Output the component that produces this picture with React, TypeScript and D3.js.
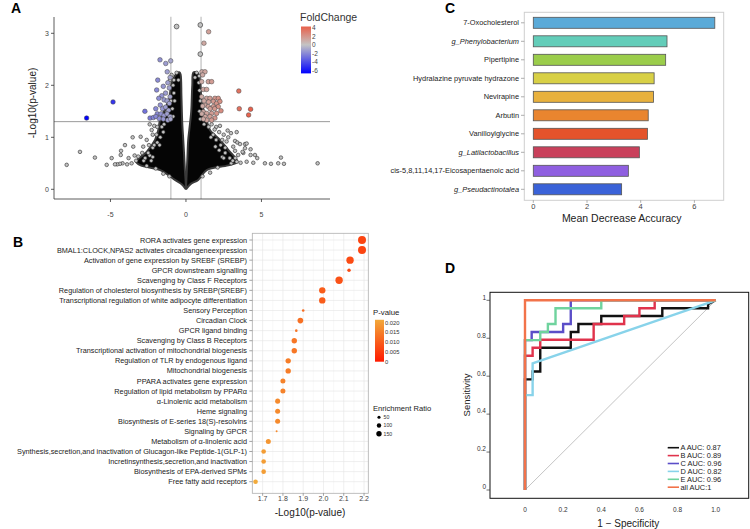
import React from "react";
import * as d3 from "d3";

const FONT = "'Liberation Sans', Arial, Helvetica, sans-serif";

// ---------------- Panel A: volcano ----------------
const volcanoXTicks = [-5, 0, 5];
const volcanoYTicks = [0, 1, 2, 3];
const foldTicks = [4, 2, 0, -2, -4, -6];
// dense cloud envelopes (log2FC, -log10 p)
const cloudLeft: [number, number][] = [
  [0, 0], [-0.3, 0.1], [-0.73, 0.18], [-1.7, 0.37], [-3.0, 0.46], [-3.3, 0.53], [-2.6, 0.72],
  [-2.05, 0.95], [-1.83, 1.14], [-1.72, 1.33], [-1.3, 1.6], [-1.1, 1.75], [-0.95, 2.04],
  [-0.6, 2.23], [-0.42, 2.25], [-0.35, 2.2], [-0.3, 1.8], [-0.25, 1.3], [-0.18, 0.95],
  [-0.13, 0.7], [-0.07, 0.37], [-0.02, 0.15], [0, 0],
];
const cloudRight: [number, number][] = [
  [0, 0], [0.3, 0.1], [0.81, 0.18], [1.37, 0.37], [2.8, 0.46], [3.4, 0.53], [2.8, 0.76],
  [2.25, 0.95], [1.59, 1.14], [1.37, 1.33], [1.04, 1.68], [0.95, 2.04], [0.8, 2.23],
  [0.5, 2.25], [0.42, 2.0], [0.35, 1.5], [0.22, 1.14], [0.15, 0.95], [0.09, 0.56],
  [0.03, 0.2], [0, 0],
];
const volcanoGray: [number, number][] = [
  [-0.62, 3.13], [0.95, 3.16], [0.95, 2.6],
  [-0.62, 2.24], [-0.95, 2.2], [-1.06, 2.1], [0.71, 2.24], [0.88, 2.18], [0.6, 2.15], [-0.5, 2.1],
  [-0.85, 2.0], [0.85, 2.05], [-0.8, 1.85], [0.9, 1.9], [-0.75, 1.7], [0.95, 1.7], [-0.9, 1.55],
  [0.9, 1.5], [-0.85, 1.4], [0.95, 1.35],
  [-1.6, 1.2], [-1.5, 1.1], [-1.7, 1.0], [-1.9, 0.9], [-2.2, 0.8], [-2.4, 0.65], [-2.8, 0.55],
  [-1.25, 1.5], [-1.0, 1.7], [-0.8, 2.1], [-1.45, 1.25], [-1.75, 0.85],
  [1.5, 1.2], [1.8, 1.05], [2.0, 0.95], [2.3, 0.85], [2.6, 0.7], [3.0, 0.5], [1.2, 1.25],
  [1.65, 1.0], [1.95, 0.82], [2.4, 0.62],
  [-2.27, 1.14], [-2.6, 0.95], [-2.83, 0.82], [-2.9, 0.7], [-2.5, 0.7], [-3.16, 0.63], [-2.4, 1.25],
  [-2.1, 1.22], [-2.2, 1.05], [-2.45, 0.85], [-2.1, 0.85], [-2.7, 0.6], [-3.3, 0.55], [-3.6, 0.5],
  [-3.9, 0.48], [-4.2, 0.5], [-3.0, 1.01], [-3.53, 1.0], [-3.49, 0.82], [-4.04, 0.85], [-4.32, 0.66],
  [-4.3, 0.74], [-4.37, 0.49], [-4.55, 0.48], [-4.7, 0.48], [-4.92, 0.6], [-5.25, 0.47], [-6.03, 0.61],
  [-7.02, 0.72], [-7.9, 0.47], [-3.8, 0.6], [-3.4, 0.65], [-2.3, 0.55], [-1.9, 1.2], [-1.95, 1.05],
  [-2.0, 0.4], [-2.6, 0.45], [-1.5, 0.3], [-1.1, 0.25], [-2.2, 0.62],
  [2.25, 1.22], [2.76, 1.13], [2.98, 1.08], [3.36, 1.1], [2.8, 1.0], [2.5, 1.05], [2.69, 0.92],
  [3.13, 0.82], [3.25, 0.93], [3.4, 0.9], [3.58, 0.87], [3.91, 0.87], [4.02, 0.88], [3.91, 0.79],
  [4.28, 0.77], [4.28, 0.66], [4.57, 0.66], [4.72, 0.6], [3.8, 0.7], [3.25, 0.74], [3.46, 0.66],
  [3.75, 0.72], [3.27, 0.6], [4.02, 0.53], [4.46, 0.51], [3.62, 0.51], [3.36, 0.53], [5.23, 0.5],
  [5.63, 0.49], [6.11, 0.5], [6.29, 0.61], [6.49, 0.49], [8.72, 0.5], [2.2, 1.1], [2.4, 0.95],
  [2.0, 1.2], [2.9, 0.6], [3.1, 0.55], [2.5, 0.6], [1.9, 1.15], [1.7, 1.25], [2.1, 0.42],
  [1.6, 0.32], [1.1, 0.25], [2.6, 0.8], [2.2, 0.75],
];
const volcanoSig: [number, number][] = [
  [1.5, 3.03], [1.19, 2.81],
  [-6.58, 1.37], [-4.83, 1.68], [-2.72, 1.5], [-1.72, 2.49], [-1.34, 2.42], [-1.01, 2.47],
  [-1.24, 2.26], [-1.87, 2.1], [-1.94, 1.91], [-1.5, 1.98], [-1.35, 1.85], [-1.2, 2.05],
  [-1.1, 1.95], [-1.6, 1.8], [-1.8, 1.75], [-1.45, 1.72], [-1.25, 1.7], [-1.1, 1.65],
  [-1.7, 1.62], [-1.55, 1.55], [-1.35, 1.58], [-1.15, 1.52], [-2.0, 1.55], [-1.9, 1.45],
  [-1.65, 1.45], [-1.45, 1.42], [-1.25, 1.45], [-1.05, 1.4], [-2.38, 1.37], [-2.16, 1.38],
  [-1.99, 1.4], [-1.77, 1.36], [-1.5, 1.35], [-1.2, 1.33], [-1.02, 1.35], [-1.05, 1.78], [-1.05, 2.15],
  [1.06, 2.26], [1.26, 2.26], [1.1, 2.2], [1.04, 2.07], [1.48, 2.07], [1.7, 2.07], [1.15, 1.92],
  [1.37, 1.92], [1.04, 1.78], [1.37, 1.75], [1.59, 1.75], [1.92, 1.75], [2.14, 1.75], [1.81, 1.69],
  [2.03, 1.65], [2.25, 1.69], [1.26, 1.62], [1.48, 1.59], [1.81, 1.59], [2.14, 1.59], [1.15, 1.49],
  [1.37, 1.46], [1.7, 1.46], [2.03, 1.46], [1.26, 1.4], [1.59, 1.4], [1.92, 1.37], [1.37, 1.33],
  [1.7, 1.33], [2.32, 1.51], [3.5, 1.89], [3.53, 1.55], [4.28, 1.54], [4.15, 1.43], [1.1, 1.6],
  [1.05, 1.45], [1.2, 1.7], [1.6, 1.55], [1.9, 1.55], [1.15, 1.35], [1.5, 1.68],
];

// ---------------- Panel B: enrichment ----------------
const pathways = [
  "RORA activates gene expression",
  "BMAL1:CLOCK,NPAS2 activates circadiangeneexpression",
  "Activation of gene expression by SREBF (SREBP)",
  "GPCR downstream signalling",
  "Scavenging by Class F Receptors",
  "Regulation of cholesterol biosynthesis by SREBP(SREBF)",
  "Transcriptional regulation of white adipocyte differentiation",
  "Sensory Perception",
  "Circadian Clock",
  "GPCR ligand binding",
  "Scavenging by Class B Receptors",
  "Transcriptional activation of mitochondrial biogenesis",
  "Regulation of TLR by endogenous ligand",
  "Mitochondrial biogenesis",
  "PPARA activates gene expression",
  "Regulation of lipid metabolism by PPARα",
  "α-Linolenic acid metabolism",
  "Heme signaling",
  "Biosynthesis of E-series 18(S)-resolvins",
  "Signaling by GPCR",
  "Metabolism of α-linolenic acid",
  "Synthesis,secretion,and inactivation of Glucagon-like Peptide-1(GLP-1)",
  "Incretinsynthesis,secretion,and inactivation",
  "Biosynthesis of EPA-derived SPMs",
  "Free fatty acid receptors",
];
const pathLogP = [2.19, 2.19, 2.131, 2.126, 2.077, 1.994, 1.994, 1.9, 1.886, 1.866, 1.856, 1.856,
  1.826, 1.826, 1.8, 1.8, 1.774, 1.774, 1.774, 1.769, 1.728, 1.705, 1.705, 1.705, 1.665];
const pathRatio = [330, 330, 280, 60, 280, 210, 210, 35, 165, 35, 150, 150, 150, 150, 130, 130,
  130, 130, 130, 20, 130, 110, 110, 110, 110];
const logPTicks = [1.7, 1.8, 1.9, 2.0, 2.1, 2.2];
const logPMinor = [1.65, 1.75, 1.85, 1.95, 2.05, 2.15];
const pValueTicks = [0.02, 0.015, 0.01, 0.005, 0];
const pValueLabels = ["0.020", "0.015", "0.010", "0.005", "0"];
const ratioTicks = [50, 100, 150];

// ---------------- Panel C: random forest ----------------
const features = [
  "7-Oxocholesterol", "g_Phenylobacterium", "Pipertipine", "Hydralazine pyruvate hydrazone",
  "Nevirapine", "Arbutin", "Vanilloylglycine", "g_Latilactobacillus",
  "cis-5,8,11,14,17-Eicosapentaenoic acid", "g_Pseudactinotalea",
];
const mda = [6.76, 4.98, 4.93, 4.5, 4.48, 4.28, 4.25, 3.95, 3.54, 3.29];
const featureColors = ["#5aaad8", "#63cdb9", "#9bcd4b", "#d8d046", "#e8b13d", "#e9852f",
  "#e4532b", "#c9405b", "#8f5fe0", "#3a62d8"];
const mdaTicks = [0, 2, 4, 6];

// ---------------- Panel D: ROC ----------------
const rocLabels = ["A AUC: 0.87", "B AUC: 0.89", "C AUC: 0.96", "D AUC: 0.82", "E AUC: 0.96", "all AUC:1"];
const rocColors = ["#111111", "#e0334c", "#5b4ec8", "#88d3ea", "#6fd39e", "#f2734a"];
const rocA: [number, number][] = [[0, 0], [0, 0.583], [0.04, 0.583], [0.04, 0.625], [0.08, 0.625],
  [0.08, 0.75], [0.24, 0.75], [0.24, 0.833], [0.28, 0.833], [0.28, 0.875], [0.4, 0.875], [0.4, 0.917],
  [0.72, 0.917], [0.72, 0.958], [0.96, 0.958], [0.96, 0.98], [1, 1]];
const rocB: [number, number][] = [[0, 0], [0, 0.708], [0.04, 0.708], [0.04, 0.75], [0.08, 0.75],
  [0.08, 0.792], [0.36, 0.792], [0.36, 0.875], [0.52, 0.875], [0.52, 0.917], [0.6, 0.917],
  [0.6, 0.958], [0.68, 0.958], [0.68, 1], [1, 1]];
const rocC: [number, number][] = [[0, 0], [0, 0.79], [0.035, 0.79], [0.035, 0.833], [0.2, 0.833],
  [0.2, 0.875], [0.24, 0.875], [0.24, 1], [1, 1]];
const rocD: [number, number][] = [[0, 0], [0, 0.5], [0.04, 0.5], [0.04, 0.667], [1, 1]];
const rocE: [number, number][] = [[0, 0], [0, 0.79], [0.08, 0.79], [0.08, 0.833], [0.12, 0.833],
  [0.12, 0.875], [0.16, 0.875], [0.16, 0.958], [0.4, 0.958], [0.4, 1], [1, 1]];
const rocAll: [number, number][] = [[0, 0], [0, 1], [1, 1]];
const rocCurves = [rocA, rocB, rocC, rocD, rocE, rocAll];
const rocXTicks = [0, 0.2, 0.4, 0.6, 0.8, 1.0];
const rocXLabels = ["0", "0.2", "0.4", "0.6", "0.8", "1.0"];
const rocYTicks = [1, 0.8, 0.6, 0.4, 0.2, 0];
const rocYLabels = ["1", "0.8", "0.6", "0.4", "0.2", "0"];

function PanelA() {
  const x = d3.scaleLinear().domain([-8.74, 9.54]).range([54, 330]);
  const y = d3.scaleLinear().domain([0, 1]).range([189.3, 137.3]);
  const color = d3.scaleLinear<string>().domain([-6.6, 0, 4.3]).range(["#0000ff", "#c4c4c4", "#e8604a"]);
  const line = d3.line<[number, number]>().x((d) => x(d[0])).y((d) => y(d[1])).curve(d3.curveCatmullRom);
  const legY = d3.scaleLinear().domain([0, 1]).range([45, 40.7]);
  return (
    <g>
      <text x={11} y={12.5} fontSize={14} fontWeight="bold" fontFamily={FONT}>A</text>
      <line x1={x(-1)} x2={x(-1)} y1={16.7} y2={199} stroke="#c4c4c4" strokeWidth={1.3} />
      <line x1={x(1)} x2={x(1)} y1={16.7} y2={199} stroke="#c4c4c4" strokeWidth={1.3} />
      <line x1={54} x2={330} y1={y(1.301)} y2={y(1.301)} stroke="#9a9a9a" strokeWidth={1} />
      <path d={line(cloudLeft) || ""} fill="#050505" stroke="#3a3a3a" strokeWidth={2} />
      <path d={line(cloudRight) || ""} fill="#050505" stroke="#3a3a3a" strokeWidth={2} />
      {volcanoGray.map((p, i) => (
        <circle key={"g" + i} cx={x(p[0])} cy={y(p[1])} r={p[1] > 2.5 ? 2.4 : 1.8}
          fill="#c2c2c2" stroke="#2a2a2a" strokeWidth={0.6} />
      ))}
      {volcanoSig.map((p, i) => (
        <circle key={"s" + i} cx={x(p[0])} cy={y(p[1])} r={2.3}
          fill={color(p[0])} stroke="#444" strokeWidth={0.5} />
      ))}
      <line x1={54} x2={54} y1={17} y2={199} stroke="#333" strokeWidth={0.8} />
      <line x1={54} x2={330} y1={199} y2={199} stroke="#333" strokeWidth={0.8} />
      {volcanoYTicks.map((t) => (
        <g key={t}>
          <line x1={51} x2={54} y1={y(t)} y2={y(t)} stroke="#333" strokeWidth={0.8} />
          <text x={49} y={y(t)} dy="0.35em" textAnchor="end" fontSize={7} fill="#444" fontFamily={FONT}>{t}</text>
        </g>
      ))}
      {volcanoXTicks.map((t) => (
        <g key={t}>
          <line x1={x(t)} x2={x(t)} y1={199} y2={202} stroke="#333" strokeWidth={0.8} />
          <text x={x(t)} y={215} dy="0.35em" textAnchor="middle" fontSize={7} fill="#444" fontFamily={FONT}>{t}</text>
        </g>
      ))}
      <text transform="translate(36,103) rotate(-90)" textAnchor="middle" fontSize={10} fill="#222" fontFamily={FONT}>-Log10(p-value)</text>
      <text x={300} y={21} fontSize={10.5} fill="#333" fontFamily={FONT}>FoldChange</text>
      <rect x={301} y={legY(4.3)} width={10} height={legY(-6.6) - legY(4.3)} fill="url(#fcGrad)" />
      {foldTicks.map((t) => (
        <text key={t} x={312} y={legY(t)} dy="0.35em" fontSize={6.5} fill="#444" fontFamily={FONT}>{t}</text>
      ))}
    </g>
  );
}

function PanelB() {
  const x = d3.scaleLinear().domain([1.649, 2.221]).range([252.3, 368.3]);
  const y = d3.scalePoint<string>().domain(pathways).range([240, 481.7]);
  const pColor = d3.scaleLinear<string>().domain([0, 0.0215]).range(["#ff1a00", "#f2a93a"]);
  const r = (v: number) => 0.22 * Math.sqrt(v);
  const legP = d3.scaleLinear().domain([0, 0.02]).range([361.7, 322.7]);
  return (
    <g>
      <text x={13} y={247} fontSize={14} fontWeight="bold" fontFamily={FONT}>B</text>
      <rect x={252.3} y={233.3} width={116} height={260} fill="white" />
      {logPMinor.map((t) => (
        <line key={"m" + t} x1={x(t)} x2={x(t)} y1={233.3} y2={493.3} stroke="#f3f3f3" strokeWidth={0.5} />
      ))}
      {logPTicks.map((t) => (
        <line key={"M" + t} x1={x(t)} x2={x(t)} y1={233.3} y2={493.3} stroke="#e4e4e4" strokeWidth={0.6} />
      ))}
      {pathways.map((p) => (
        <line key={"h" + p} x1={252.3} x2={368.3} y1={y(p)!} y2={y(p)!} stroke="#e4e4e4" strokeWidth={0.6} />
      ))}
      <rect x={252.3} y={233.3} width={116} height={260} fill="none" stroke="#b0b0b0" strokeWidth={0.8} />
      {pathways.map((p, i) => (
        <g key={p}>
          <line x1={249.3} x2={252.3} y1={y(p)!} y2={y(p)!} stroke="#666" strokeWidth={0.6} />
          <text x={247} y={y(p)!} dy="0.35em" textAnchor="end" fontSize={7.3} fill="#222" fontFamily={FONT}>{p}</text>
          <circle cx={x(pathLogP[i])} cy={y(p)!} r={r(pathRatio[i])} fill={pColor(Math.pow(10, -pathLogP[i]))} />
        </g>
      ))}
      {logPTicks.map((t) => (
        <g key={t}>
          <line x1={x(t)} x2={x(t)} y1={493.3} y2={495.8} stroke="#666" strokeWidth={0.6} />
          <text x={x(t)} y={499} dy="0.35em" textAnchor="middle" fontSize={7} fill="#444" fontFamily={FONT}>{t.toFixed(1)}</text>
        </g>
      ))}
      <text x={310} y={512} dy="0.35em" textAnchor="middle" fontSize={10} fill="#222" fontFamily={FONT}>-Log10(p-value)</text>
      <text x={373} y={315} fontSize={7.8} fill="#222" fontFamily={FONT}>P-value</text>
      <rect x={375} y={legP(0.0215)} width={9} height={legP(0) - legP(0.0215)} fill="url(#pGrad)" />
      {pValueTicks.map((t, i) => (
        <text key={t} x={385} y={legP(t)} dy="0.35em" fontSize={5.8} fill="#333" fontFamily={FONT}>{pValueLabels[i]}</text>
      ))}
      <text x={373} y={411} fontSize={7.6} fill="#222" fontFamily={FONT}>Enrichment Ratio</text>
      {ratioTicks.map((t, i) => (
        <g key={t}>
          <circle cx={379} cy={417.3 + i * 8.2} r={r(t)} fill="#000" />
          <text x={383.5} y={417.3 + i * 8.2} dy="0.35em" fontSize={5.2} fill="#333" fontFamily={FONT}>{t}</text>
        </g>
      ))}
    </g>
  );
}

function PanelC() {
  const x = d3.scaleLinear().domain([0, 2]).range([533.3, 587]);
  const y = d3.scalePoint<string>().domain(features).range([22.8, 189.3]);
  const bh = 11;
  return (
    <g>
      <text x={445} y={13} fontSize={14} fontWeight="bold" fontFamily={FONT}>C</text>
      <rect x={524.3} y={12.3} width={199.4} height={188} fill="white" stroke="#cfcfcf" strokeWidth={1} />
      {features.map((f, i) => (
        <g key={f}>
          <rect x={x(0)} y={y(f)! - bh / 2} width={x(mda[i]) - x(0)} height={bh}
            fill={featureColors[i]} stroke="#555" strokeWidth={0.8} />
          <line x1={521} x2={524.3} y1={y(f)!} y2={y(f)!} stroke="#777" strokeWidth={0.6} />
          <text x={519} y={y(f)!} dy="0.35em" textAnchor="end" fontSize={7.4} fill="#222"
            fontStyle={f.startsWith("g_") ? "italic" : "normal"} fontFamily={FONT}>{f}</text>
        </g>
      ))}
      {mdaTicks.map((t) => (
        <g key={t}>
          <line x1={x(t)} x2={x(t)} y1={200.3} y2={202.8} stroke="#777" strokeWidth={0.6} />
          <text x={x(t)} y={206.8} dy="0.35em" textAnchor="middle" fontSize={7.5} fill="#444" fontFamily={FONT}>{t}</text>
        </g>
      ))}
      <text x={621.7} y={218.5} dy="0.35em" textAnchor="middle" fontSize={10.5} fill="#222" fontFamily={FONT}>Mean Decrease Accuracy</text>
    </g>
  );
}

function PanelD() {
  const x = d3.scaleLinear().domain([0, 1]).range([525, 715.7]);
  const y = d3.scaleLinear().domain([0, 1]).range([490, 300.3]);
  const line = d3.line<[number, number]>().x((d) => x(d[0])).y((d) => y(d[1]));
  return (
    <g>
      <text x={445} y={273} fontSize={14} fontWeight="bold" fontFamily={FONT}>D</text>
      <rect x={490} y={292.3} width={258.7} height={206} fill="white" stroke="#111" strokeWidth={1} />
      <line x1={x(0)} y1={y(0)} x2={x(1)} y2={y(1)} stroke="#aaa" strokeWidth={0.7} />
      {rocCurves.map((c, i) => (
        <path key={i} d={line(c) || ""} fill="none" stroke={rocColors[i]} strokeWidth={2.4} />
      ))}
      {rocYTicks.map((t, i) => (
        <g key={t}>
          <line x1={486.5} x2={490} y1={y(t)} y2={y(t)} stroke="#333" strokeWidth={0.7} />
          <text x={486} y={y(t)} dy="-0.1em" textAnchor="end" fontSize={6.5} fill="#333" fontFamily={FONT}>{rocYLabels[i]}</text>
        </g>
      ))}
      {rocXTicks.map((t, i) => (
        <text key={t} x={x(t)} y={509.5} dy="0.35em" textAnchor="middle" fontSize={6.5} fill="#333" fontFamily={FONT}>{rocXLabels[i]}</text>
      ))}
      <text x={628.3} y={523.5} dy="0.35em" textAnchor="middle" fontSize={10} fill="#222" fontFamily={FONT}>1 − Specificity</text>
      <text transform="translate(467,395) rotate(-90)" dy="0.35em" textAnchor="middle" fontSize={9.5} fill="#222" fontFamily={FONT}>Sensitivity</text>
      {rocLabels.map((l, i) => (
        <g key={l}>
          <line x1={667.7} x2={679} y1={447.7 + i * 7.9} y2={447.7 + i * 7.9} stroke={rocColors[i]} strokeWidth={1.6} />
          <text x={680.5} y={447.7 + i * 7.9} dy="0.35em" fontSize={7.4} fill="#222" fontFamily={FONT}>{l}</text>
        </g>
      ))}
    </g>
  );
}

export default function App() {
  return (
    <svg width={750} height={529} viewBox="0 0 750 529"
      style={{ position: "absolute", left: 0, top: 0, background: "white" }}>
      <defs>
        <linearGradient id="fcGrad" x1="0" y1="0" x2="0" y2="1">
          <stop offset="0%" stopColor="#e8604a" />
          <stop offset="39%" stopColor="#c4c4c4" />
          <stop offset="100%" stopColor="#0000ff" />
        </linearGradient>
        <linearGradient id="pGrad" x1="0" y1="0" x2="0" y2="1">
          <stop offset="0%" stopColor="#f2a93a" />
          <stop offset="100%" stopColor="#ff1a00" />
        </linearGradient>
      </defs>
      <rect width={750} height={529} fill="white" />
      <PanelA />
      <PanelB />
      <PanelC />
      <PanelD />
    </svg>
  );
}
